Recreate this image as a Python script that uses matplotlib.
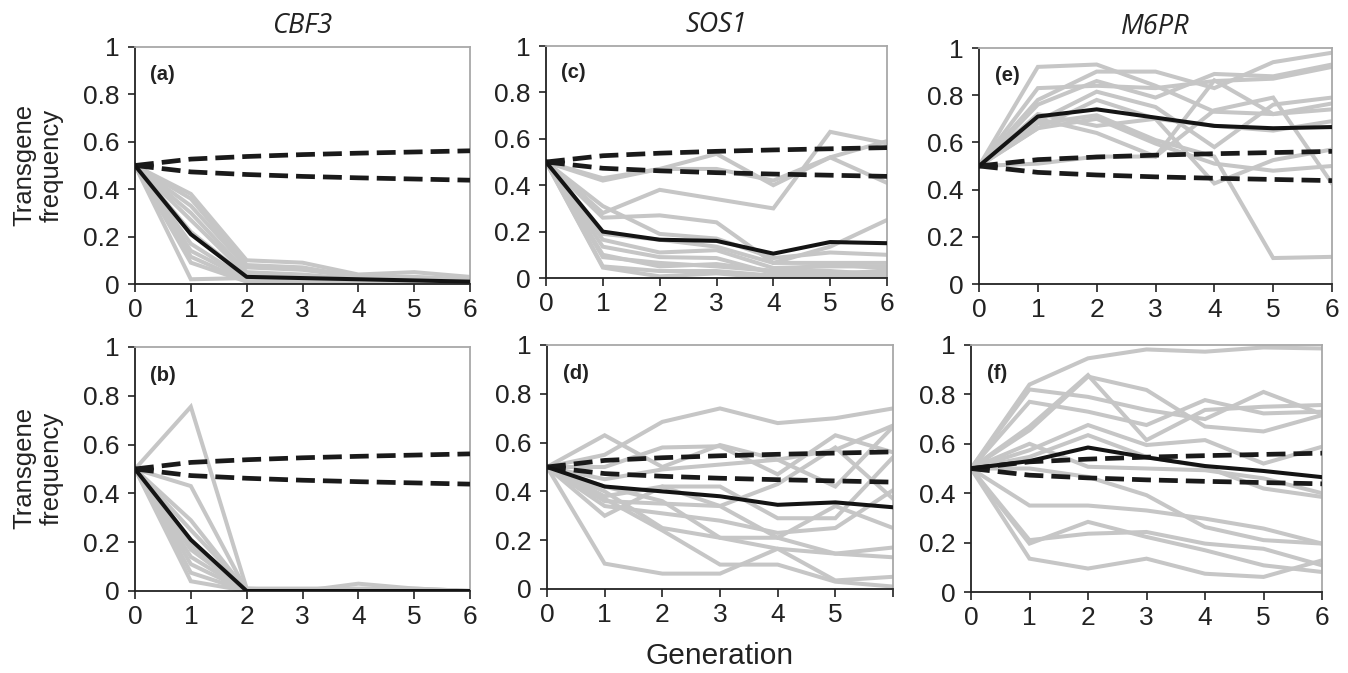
import numpy as np
import matplotlib
matplotlib.use("Agg")
import matplotlib.pyplot as plt

plt.rcParams['font.family'] = ['Liberation Sans', 'DejaVu Sans']

gens = [0, 1, 2, 3, 4, 5, 6]
genes = ['CBF3', 'SOS1', 'M6PR']
panel_labels = ['(a)', '(b)', '(c)', '(d)', '(e)', '(f)']

# neutral expectation envelope (dashed), same in every panel
upper_neutral = [0.5, 0.527, 0.538, 0.546, 0.552, 0.557, 0.562]
lower_neutral = [0.5, 0.473, 0.462, 0.454, 0.448, 0.443, 0.438]

# (a) CBF3 top
reps_a = [
    [0.5, 0.38, 0.10, 0.09, 0.04, 0.05, 0.03],
    [0.5, 0.36, 0.08, 0.07, 0.03, 0.03, 0.02],
    [0.5, 0.33, 0.07, 0.06, 0.03, 0.02, 0.02],
    [0.5, 0.30, 0.05, 0.04, 0.02, 0.02, 0.01],
    [0.5, 0.27, 0.04, 0.03, 0.02, 0.01, 0.01],
    [0.5, 0.22, 0.03, 0.02, 0.01, 0.01, 0.00],
    [0.5, 0.17, 0.02, 0.02, 0.01, 0.00, 0.00],
    [0.5, 0.14, 0.02, 0.01, 0.01, 0.00, 0.00],
    [0.5, 0.115, 0.01, 0.01, 0.00, 0.00, 0.00],
    [0.5, 0.09, 0.01, 0.00, 0.00, 0.00, 0.00],
    [0.5, 0.02, 0.025, 0.01, 0.01, 0.00, 0.00],
]
mean_a = [0.5, 0.21, 0.03, 0.025, 0.02, 0.015, 0.01]

# (b) CBF3 bottom
reps_b = [
    [0.5, 0.755, 0.01, 0.01, 0.01, 0.01, 0.00],
    [0.5, 0.43, 0.00, 0.00, 0.03, 0.01, 0.00],
    [0.5, 0.29, 0.00, 0.00, 0.00, 0.00, 0.00],
    [0.5, 0.25, 0.01, 0.00, 0.00, 0.00, 0.00],
    [0.5, 0.19, 0.00, 0.00, 0.00, 0.00, 0.00],
    [0.5, 0.17, 0.00, 0.00, 0.00, 0.00, 0.00],
    [0.5, 0.14, 0.00, 0.00, 0.00, 0.00, 0.00],
    [0.5, 0.11, 0.00, 0.00, 0.00, 0.00, 0.00],
    [0.5, 0.075, 0.00, 0.00, 0.00, 0.00, 0.00],
    [0.5, 0.04, 0.00, 0.00, 0.00, 0.00, 0.00],
]
mean_b = [0.5, 0.21, 0.0, 0.0, 0.0, 0.0, 0.0]

# (c) SOS1 top
reps_c = [
    [0.5, 0.42, 0.47, 0.535, 0.40, 0.52, 0.59],
    [0.5, 0.43, 0.47, 0.47, 0.42, 0.52, 0.41],
    [0.5, 0.28, 0.38, 0.34, 0.30, 0.63, 0.58],
    [0.5, 0.26, 0.27, 0.24, 0.065, 0.135, 0.25],
    [0.5, 0.31, 0.19, 0.17, 0.086, 0.11, 0.10],
    [0.5, 0.19, 0.165, 0.135, 0.065, 0.065, 0.065],
    [0.5, 0.165, 0.11, 0.12, 0.043, 0.05, 0.05],
    [0.5, 0.135, 0.09, 0.086, 0.02, 0.02, 0.03],
    [0.5, 0.09, 0.065, 0.05, 0.03, 0.03, 0.015],
    [0.5, 0.05, 0.03, 0.03, 0.01, 0.01, 0.01],
    [0.5, 0.045, 0.007, 0.02, 0.00, 0.00, 0.00],
    [0.5, 0.10, 0.05, 0.06, 0.03, 0.06, 0.04],
]
mean_c = [0.5, 0.20, 0.165, 0.16, 0.105, 0.155, 0.15]

# (d) SOS1 bottom
reps_d = [
    [0.5, 0.55, 0.685, 0.74, 0.68, 0.70, 0.74],
    [0.5, 0.63, 0.50, 0.59, 0.53, 0.42, 0.665],
    [0.5, 0.50, 0.58, 0.585, 0.47, 0.63, 0.56],
    [0.5, 0.38, 0.42, 0.42, 0.29, 0.29, 0.54],
    [0.5, 0.36, 0.35, 0.34, 0.43, 0.58, 0.37],
    [0.5, 0.34, 0.31, 0.28, 0.23, 0.25, 0.405],
    [0.5, 0.30, 0.42, 0.34, 0.21, 0.34, 0.25],
    [0.5, 0.40, 0.25, 0.21, 0.165, 0.035, 0.05],
    [0.5, 0.37, 0.24, 0.10, 0.10, 0.03, 0.01],
    [0.5, 0.104, 0.063, 0.063, 0.165, 0.145, 0.13],
    [0.5, 0.45, 0.49, 0.51, 0.53, 0.57, 0.67],
    [0.5, 0.42, 0.36, 0.21, 0.21, 0.145, 0.17],
]
mean_d = [0.5, 0.42, 0.40, 0.38, 0.345, 0.355, 0.335]

# (e) M6PR top
reps_e = [
    [0.5, 0.92, 0.93, 0.84, 0.73, 0.72, 0.74],
    [0.5, 0.83, 0.84, 0.83, 0.86, 0.87, 0.92],
    [0.5, 0.78, 0.90, 0.90, 0.83, 0.94, 0.98],
    [0.5, 0.76, 0.86, 0.79, 0.89, 0.88, 0.93],
    [0.5, 0.69, 0.815, 0.75, 0.58, 0.76, 0.79],
    [0.5, 0.66, 0.78, 0.70, 0.67, 0.65, 0.69],
    [0.5, 0.68, 0.715, 0.61, 0.54, 0.11, 0.115],
    [0.5, 0.66, 0.70, 0.595, 0.51, 0.48, 0.50],
    [0.5, 0.72, 0.67, 0.70, 0.426, 0.525, 0.57],
    [0.5, 0.70, 0.64, 0.54, 0.736, 0.79, 0.426],
    [0.5, 0.51, 0.54, 0.54, 0.863, 0.72, 0.765],
]
mean_e = [0.5, 0.71, 0.74, 0.705, 0.67, 0.66, 0.665]

# (f) M6PR bottom
reps_f = [
    [0.5, 0.84, 0.946, 0.982, 0.973, 0.99, 0.986],
    [0.5, 0.82, 0.79, 0.737, 0.70, 0.81, 0.72],
    [0.5, 0.77, 0.73, 0.676, 0.777, 0.723, 0.73],
    [0.5, 0.67, 0.878, 0.615, 0.737, 0.75, 0.757],
    [0.5, 0.655, 0.872, 0.818, 0.67, 0.65, 0.716],
    [0.5, 0.574, 0.676, 0.595, 0.615, 0.52, 0.588],
    [0.5, 0.547, 0.635, 0.547, 0.507, 0.419, 0.385],
    [0.5, 0.60, 0.507, 0.50, 0.493, 0.46, 0.40],
    [0.5, 0.35, 0.35, 0.33, 0.297, 0.257, 0.196],
    [0.5, 0.50, 0.466, 0.392, 0.263, 0.21, 0.196],
    [0.5, 0.196, 0.284, 0.223, 0.169, 0.108, 0.081],
    [0.5, 0.21, 0.236, 0.243, 0.196, 0.175, 0.108],
    [0.5, 0.135, 0.095, 0.135, 0.074, 0.061, 0.128],
]
mean_f = [0.5, 0.53, 0.585, 0.545, 0.51, 0.49, 0.465]

panels = [
    (reps_a, mean_a), (reps_b, mean_b),
    (reps_c, mean_c), (reps_d, mean_d),
    (reps_e, mean_e), (reps_f, mean_f),
]

W, H = 1348, 673
boxes = [
    (135, 47, 470, 284), (135, 347, 470, 591),
    (546, 46, 887, 278), (547, 345, 893, 589),
    (979, 48, 1332, 284), (971, 345, 1322, 592),
]

fig = plt.figure(figsize=(W / 100, H / 100), dpi=100)
axes = []
for i, (reps, mean) in enumerate(panels):
    l, t, r, b = boxes[i]
    ax = fig.add_axes([l / W, 1 - b / H, (r - l) / W, (b - t) / H])
    axes.append(ax)
    for rep in reps:
        ax.plot(gens, rep, color='#c6c6c6', lw=2.9, solid_joinstyle='miter', zorder=1)
    ax.plot(gens, upper_neutral, color='#1a1a1a', lw=3.4, dashes=(4, 1.7), zorder=3)
    ax.plot(gens, lower_neutral, color='#1a1a1a', lw=3.4, dashes=(4, 1.7), zorder=3)
    ax.plot(gens, mean, color='#141414', lw=2.9, zorder=4)
    ax.set_xlim(0, 6)
    ax.set_ylim(0, 1)
    ax.set_xticks(gens)
    if i == 3:
        ax.set_xticklabels(['0', '1', '2', '3', '4', '5', ''])
    ax.set_yticks([0, 0.2, 0.4, 0.6, 0.8, 1])
    ax.set_yticklabels(['0', '0.2', '0.4', '0.6', '0.8', '1'])
    ax.tick_params(axis='both', direction='out', labelsize=19, colors='#222222',
                   width=1.2)
    ax.tick_params(axis='x', length=6, pad=4)
    ax.tick_params(axis='y', length=5, pad=6)
    for s in ['left', 'bottom']:
        ax.spines[s].set_color('#222222')
        ax.spines[s].set_linewidth(1.3)
    for s in ['top', 'right']:
        ax.spines[s].set_color('#a8a8a8')
        ax.spines[s].set_linewidth(1.3)
    ax.text(0.045, 0.885, panel_labels[i], transform=ax.transAxes,
            fontsize=14.5, fontweight='bold', ha='left', va='center', color='#222222')

for j, g in enumerate(genes):
    axes[2 * j].set_title(g, fontsize=19.5, style='italic', family='Open Sans',
                          pad=10, color='#222222')

for yc in [165, 468]:
    fig.text(38 / W, 1 - yc / H, 'Transgene\nfrequency', rotation=90,
             ha='center', va='center', fontsize=18.5, color='#222222', linespacing=1.15)

fig.text(720 / W, 1 - 656 / H, 'Generation', ha='center', va='center',
         fontsize=21.5, color='#222222')

fig.savefig('out.png', dpi=100)
